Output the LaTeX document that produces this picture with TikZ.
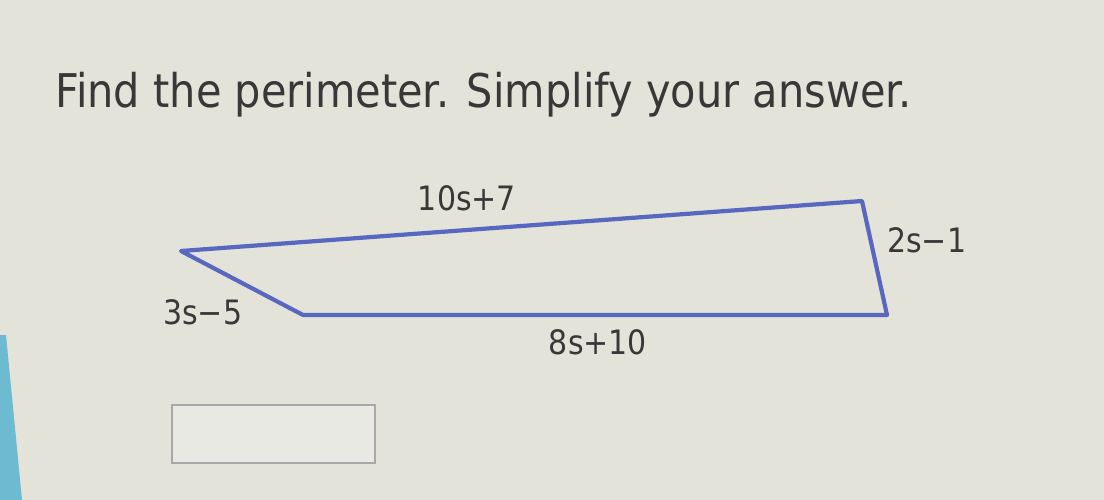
\documentclass[tikz,border=0pt]{standalone}
\usepackage{fontspec}
\setmainfont{DejaVu Sans}
\definecolor{bg}{HTML}{E4E3D9}
\definecolor{shapeblue}{HTML}{5868C0}
\definecolor{txt}{HTML}{383838}
\definecolor{strip}{HTML}{6DBBD0}
\definecolor{boxline}{HTML}{A8A8A8}
\definecolor{boxfill}{HTML}{E9E9E4}
\tikzset{
  lbl/.style={text=txt, font=\fontsize{30}{32}\selectfont, inner sep=0pt},
  side/.style={draw=shapeblue, line width=4.2pt, line join=round},
}
\begin{document}
\begin{tikzpicture}[x=1pt,y=-1pt]
\useasboundingbox (0,0) rectangle (1104,500);
\fill[bg] (0,0) rectangle (1104,500);
\fill[strip] (0,335) -- (6,335) -- (22,500) -- (0,500) -- cycle;
\node[text=txt, anchor=base west, inner sep=0pt, font=\fontsize{41.5}{44}\selectfont] (title) at (55,108) {\scalebox{1}[1.12]{Find the perimeter. Simplify your answer.}};
\coordinate (A) at (181,251);
\coordinate (B) at (862,201);
\coordinate (C) at (887,315);
\coordinate (D) at (303,315);
\draw[side] (A) -- (B) -- (C) -- (D) -- cycle;
\node[lbl] (top) at (467,198) {\scalebox{1}[1.12]{10s+7}};
\node[lbl, anchor=west] (right) at (887,240) {\scalebox{1}[1.12]{2s−1}};
\node[lbl, anchor=west] (left) at (163,312) {\scalebox{1}[1.12]{3s−5}};
\node[lbl] (bottom) at (598,342) {\scalebox{1}[1.12]{8s+10}};
\draw[boxline, fill=boxfill, line width=1.5pt] (172,405) rectangle (375,463);
\end{tikzpicture}
\end{document}
